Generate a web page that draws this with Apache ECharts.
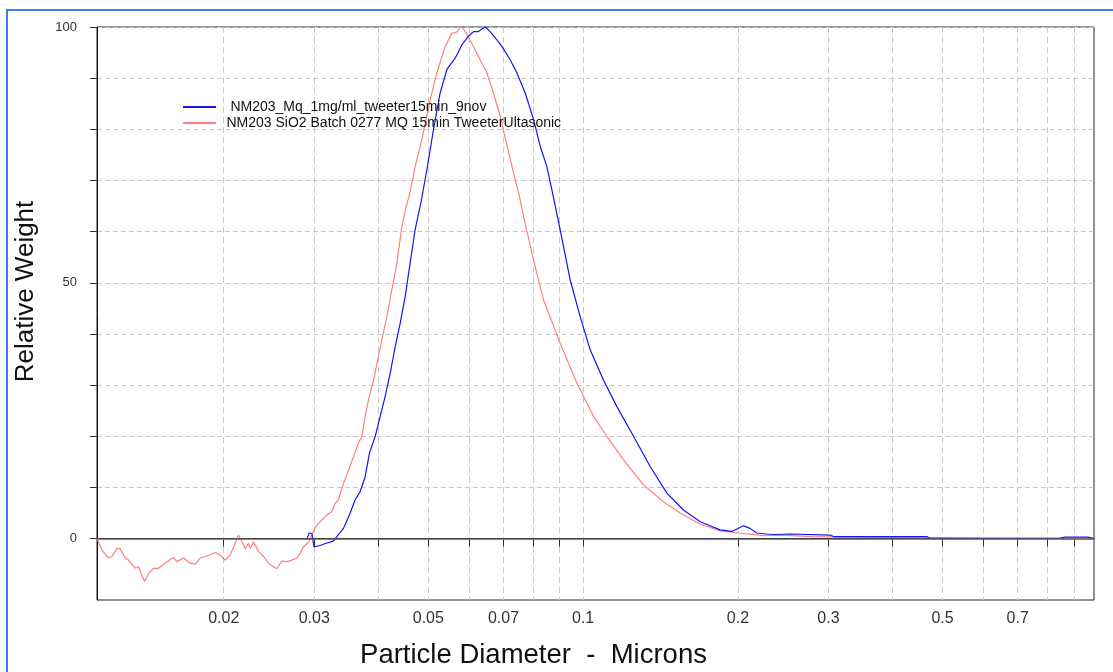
<!DOCTYPE html>
<html>
<head>
<meta charset="utf-8">
<title>Particle size distribution</title>
<script src="https://cdn.jsdelivr.net/npm/echarts@6/dist/echarts.min.js"></script>
<style>
  html, body { margin: 0; padding: 0; background: #ffffff; }
  #chart { width: 1113px; height: 672px; }
</style>
</head>
<body>
<div id="chart"></div>
<script>
// Series names, as shown in the legend
const seriesNames = [
  ' NM203_Mq_1mg/ml_tweeter15min_9nov',
  'NM203 SiO2 Batch 0277 MQ 15min TweeterUltasonic'
];

// Run 1: NM203_Mq_1mg/ml_tweeter15min_9nov (diameter in microns, relative weight)
const blueSize = [
  0.02855, 0.02903, 0.02932, 0.02968, 0.02996, 0.03067, 0.03164, 0.03269, 0.03319, 0.03419,
  0.03524, 0.03603, 0.03685, 0.03768, 0.03841, 0.03941, 0.04030, 0.04121, 0.04214, 0.04310,
  0.04408, 0.04507, 0.04609, 0.04713, 0.04835, 0.04967, 0.05115, 0.05271, 0.05433, 0.05637,
  0.05809, 0.05984, 0.06119, 0.06258, 0.06353, 0.06448, 0.06595, 0.06744, 0.06949, 0.07213,
  0.07433, 0.07715, 0.08006, 0.08250, 0.08500, 0.08692, 0.09021, 0.09434, 0.09867, 0.1032,
  0.1095, 0.1163, 0.1253, 0.1350, 0.1455, 0.1567, 0.1689, 0.1847, 0.1945, 0.2050,
  0.2112, 0.2176, 0.2276, 0.2344, 0.2527, 0.3022, 0.3067, 0.4658, 0.4727, 0.8460,
  0.8656, 0.9592, 0.985
];
const blueWeight = [
  0, 0, 1.1, 1.0, -1.6, -1.4, -0.9, -0.5, 0.4, 2.0,
  5.0, 7.6, 9.2, 12.1, 16.7, 20.0, 23.9, 27.8, 32.3, 37.5,
  42.1, 47.3, 53.9, 60.4, 65.6, 72.1, 79.9, 87.1, 91.7, 93.9,
  96.5, 98.2, 99.1, 99.1, 99.6, 100, 99.1, 97.9, 96.2, 93.6,
  91.0, 87.1, 82.0, 76.7, 72.7, 68.2, 60.4, 50.6, 43.4, 36.9,
  31.0, 25.8, 20.0, 14.1, 8.9, 5.6, 3.3, 1.7, 1.4, 2.5,
  2.0, 1.1, 0.9, 0.8, 0.9, 0.7, 0.4, 0.4, 0.05, 0.1,
  0.3, 0.3, 0
];

// Run 2: NM203 SiO2 Batch 0277 MQ 15min TweeterUltasonic
const redSize = [
  0.01134, 0.01159, 0.01194, 0.01212, 0.01240, 0.01258, 0.01287, 0.01306, 0.01326, 0.01346,
  0.01366, 0.01386, 0.01403, 0.01428, 0.01461, 0.01494, 0.01539, 0.01597, 0.01622, 0.01670,
  0.01721, 0.01760, 0.01800, 0.01841, 0.01882, 0.01925, 0.01969, 0.02013, 0.02059, 0.02105,
  0.02137, 0.02170, 0.02202, 0.02234, 0.02252, 0.02285, 0.02337, 0.02390, 0.02444, 0.02499,
  0.02537, 0.02595, 0.02654, 0.02714, 0.02775, 0.02816, 0.02858, 0.02923, 0.02968, 0.03012,
  0.03080, 0.03174, 0.03246, 0.03294, 0.03343, 0.03419, 0.03471, 0.03576, 0.03657, 0.03713,
  0.03768, 0.03824, 0.03911, 0.03999, 0.04061, 0.04152, 0.04246, 0.04343, 0.04441, 0.04527,
  0.04594, 0.04713, 0.04857, 0.05041, 0.05194, 0.05391, 0.05555, 0.05663, 0.05765, 0.05836,
  0.05942, 0.06119, 0.06305, 0.06498, 0.06693, 0.06897, 0.07106, 0.07320, 0.07519, 0.07655,
  0.08006, 0.08372, 0.09021, 0.09723, 0.1047, 0.1112, 0.1198, 0.1310, 0.1433, 0.1544,
  0.1689, 0.1847, 0.2005, 0.2242, 0.2416, 0.2804, 0.3256, 0.4387, 0.5916, 0.9808
];
const redWeight = [
  0, -2.2, -3.8, -3.5, -1.9, -2.0, -3.8, -4.2, -5.1, -5.8,
  -5.5, -7.1, -8.4, -6.8, -5.8, -5.8, -4.8, -3.7, -4.5, -3.8,
  -4.8, -5.0, -3.8, -3.5, -3.2, -2.7, -3.2, -4.2, -3.2, -0.9,
  0.7, -0.6, -2.0, -0.9, -1.9, -0.6, -2.5, -3.5, -4.8, -5.5,
  -5.9, -4.4, -4.5, -4.2, -3.8, -2.9, -1.6, -0.7, 0.7, 2.2,
  3.3, 4.6, 5.3, 6.9, 7.6, 10.8, 12.5, 16.0, 18.7, 20.0,
  23.9, 27.1, 31.0, 35.6, 38.9, 43.4, 48.6, 53.9, 61.0, 64.9,
  67.2, 72.7, 78.0, 85.8, 91.0, 96.2, 98.8, 98.9, 100, 99.8,
  98.5, 96.2, 93.6, 91.0, 87.1, 82.5, 77.0, 71.5, 66.9, 63.0,
  54.5, 46.7, 38.2, 30.4, 23.9, 20.0, 15.4, 10.5, 7.2, 5.0,
  2.8, 1.5, 1.1, 0.6, 0.7, 0.4, 0.3, 0.2, 0.1, 0
];

// Axis ticks and labels
const xTickValues = [0.02, 0.03, 0.04, 0.05, 0.06, 0.07, 0.08, 0.09,
                     0.1, 0.2, 0.3, 0.4, 0.5, 0.6, 0.7, 0.8, 0.9];
const xLabelValues = [0.02, 0.03, 0.05, 0.07, 0.1, 0.2, 0.3, 0.5, 0.7];
const yTickValues = [0, 10, 20, 30, 40, 50, 60, 70, 80, 90, 100];
const yLabelValues = [0, 50, 100];
const xRange = [0.01134, 0.985];
const yRange = [-12, 100];

const FONT = '"Liberation Sans", Arial, sans-serif';

function pairs(xs, ys) {
  return xs.map((x, i) => [x, ys[i]]);
}

const chart = echarts.init(document.getElementById('chart'), null, { renderer: 'canvas' });

chart.setOption({
  animation: false,
  backgroundColor: '#ffffff',
  textStyle: { fontFamily: FONT },
  graphic: [{
    type: 'rect',
    silent: true,
    shape: { x: 7, y: 10, width: 1300, height: 900 },
    style: { fill: 'none', stroke: '#3d7bf2', lineWidth: 2 }
  }],
  legend: {
    orient: 'vertical',
    left: 182,
    top: 100,
    padding: 0,
    itemWidth: 33,
    itemHeight: 14,
    itemGap: 2,
    selectedMode: false,
    // legend keys are plain line segments, no marker
    itemStyle: { opacity: 0 },
    textStyle: { fontFamily: FONT, fontSize: 14, color: '#111', padding: [0, 0, 0, 5.5] },
    data: seriesNames
  },
  grid: {
    left: 97,
    right: 19,
    top: 27,
    bottom: 72,
    show: true,
    borderColor: '#222',
    borderWidth: 1,
    containLabel: false,
    outerBoundsMode: 'none'
  },
  xAxis: {
    type: 'log',
    logBase: 10,
    min: xRange[0],
    max: xRange[1],
    name: 'Particle Diameter  -  Microns',
    nameLocation: 'middle',
    nameGap: 41,
    nameTextStyle: { fontFamily: FONT, fontSize: 27.5, color: '#111', padding: [0, 124, 0, 0] },
    axisLine: { show: true, lineStyle: { color: '#111', width: 1 } },
    axisTick: { show: true, length: 8, customValues: xTickValues, lineStyle: { color: '#333' } },
    axisLabel: {
      customValues: xLabelValues,
      margin: 11,
      fontFamily: FONT,
      fontSize: 16,
      color: '#333',
      formatter: v => String(+(+v).toPrecision(3))
    },
    splitLine: { show: true, lineStyle: { color: '#c8c8c8', type: [6, 4], width: 1 } },
    minorTick: { show: false }
  },
  yAxis: {
    type: 'value',
    min: yRange[0],
    max: yRange[1],
    name: 'Relative Weight',
    nameLocation: 'middle',
    nameGap: 58,
    nameTextStyle: { fontFamily: FONT, fontSize: 26, color: '#111', padding: [0, 0, 0, 44] },
    axisLine: { show: true, lineStyle: { color: '#111', width: 1 } },
    axisTick: { show: true, length: 7, customValues: yTickValues, lineStyle: { color: '#333' } },
    axisLabel: {
      customValues: yLabelValues,
      margin: 20,
      fontFamily: FONT,
      fontSize: 13,
      color: '#333'
    },
    splitLine: { show: true, lineStyle: { color: '#c8c8c8', type: [5, 3], width: 1 } }
  },
  series: [
    {
      name: seriesNames[0],
      type: 'line',
      data: pairs(blueSize, blueWeight),
      symbol: 'none',
      showSymbol: false,
      color: '#1515f0',
      lineStyle: { color: '#1515f0', width: 1.2 },
      z: 3,
      markLine: {
        silent: true,
        symbol: 'none',
        label: { show: false },
        lineStyle: { color: '#5a5a5a', type: 'solid', width: 1.5 },
        data: [{ yAxis: 0 }]
      }
    },
    {
      name: seriesNames[1],
      type: 'line',
      data: pairs(redSize, redWeight),
      symbol: 'none',
      showSymbol: false,
      color: '#ff7f7f',
      lineStyle: { color: '#ff7f7f', width: 1.2 },
      z: 2
    }
  ]
});
</script>
</body>
</html>
